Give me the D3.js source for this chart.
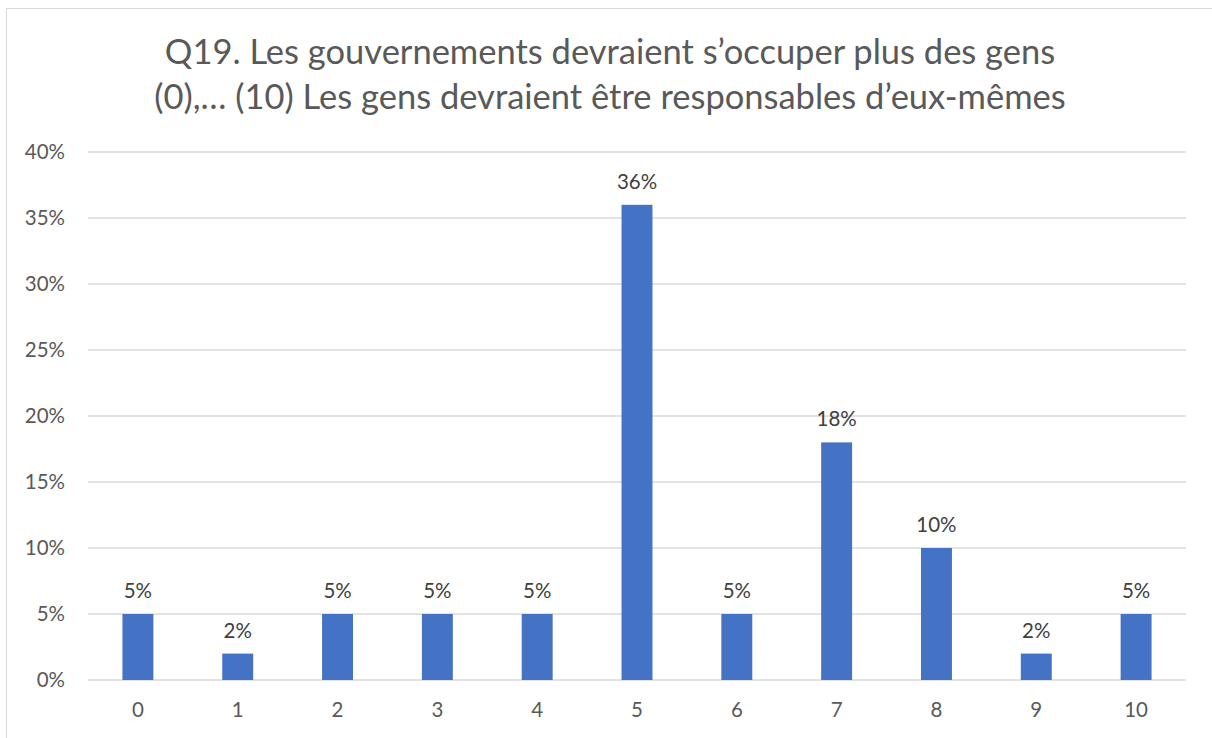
<!DOCTYPE html>
<html><head><meta charset="utf-8">
<script src="https://cdn.jsdelivr.net/npm/d3@7"></script>
<style>body{margin:0;background:#fff;}svg{display:block;}</style>
</head><body>
<script>
const categories = ["0","1","2","3","4","5","6","7","8","9","10"];
const values = [5,2,5,5,5,36,5,18,10,2,5];
const yTicks = [0,5,10,15,20,25,30,35,40];
const titleLines = ["Q19. Les gouvernements devraient s’occuper plus des gens","(0),… (10) Les gens devraient être responsables d’eux-mêmes"];

const W=1212,H=738;
const svg=d3.select("body").append("svg").attr("width",W).attr("height",H);
svg.append("rect").attr("x",6.5).attr("y",8.5).attr("width",W).attr("height",H).attr("fill","#fff").attr("stroke","#d9d9d9");
const font="Lato, 'Open Sans', sans-serif";
const x=d3.scaleBand().domain(categories).range([88,1186]).paddingInner(0.69).paddingOuter(0.345);
const y=d3.scaleLinear().domain([0,40]).range([680,152]);

svg.append("g").selectAll("line").data(yTicks).join("line")
 .attr("x1",88).attr("x2",1186).attr("y1",d=>y(d)).attr("y2",d=>y(d))
 .attr("stroke","#d9d9d9").attr("stroke-width",1.5);

const yAxis=d3.axisLeft(y).tickValues(yTicks).tickFormat(d=>d+"%").tickSize(0).tickPadding(23);
const gy=svg.append("g").attr("transform","translate(88,0)").call(yAxis);
gy.select(".domain").remove();
gy.selectAll("text").attr("font-family",font).attr("font-size",20.5).attr("fill","#595959");

const xAxis=d3.axisBottom(x).tickSize(0).tickPadding(22);
const gx=svg.append("g").attr("transform","translate(0,680)").call(xAxis);
gx.select(".domain").remove();
gx.selectAll("text").attr("font-family",font).attr("font-size",20.5).attr("fill","#595959");

svg.append("g").selectAll("text").data(values).join("text")
 .attr("x",(d,i)=>x(categories[i])+x.bandwidth()/2).attr("y",d=>y(d)-16)
 .attr("text-anchor","middle").attr("font-family",font).attr("font-size",20.5).attr("fill","#404040")
 .text(d=>d+"%");

svg.append("g").selectAll("rect").data(values).join("rect")
 .attr("x",(d,i)=>x(categories[i])).attr("width",x.bandwidth())
 .attr("y",d=>y(d)).attr("height",d=>y(0)-y(d)).attr("fill","#4472c4");

svg.append("g").selectAll("text").data(titleLines).join("text")
 .attr("x",610).attr("y",(d,i)=>64+i*45).attr("text-anchor","middle")
 .attr("font-family",font).attr("font-size",34.5).attr("fill","#595959").text(d=>d);
</script>
</body></html>
